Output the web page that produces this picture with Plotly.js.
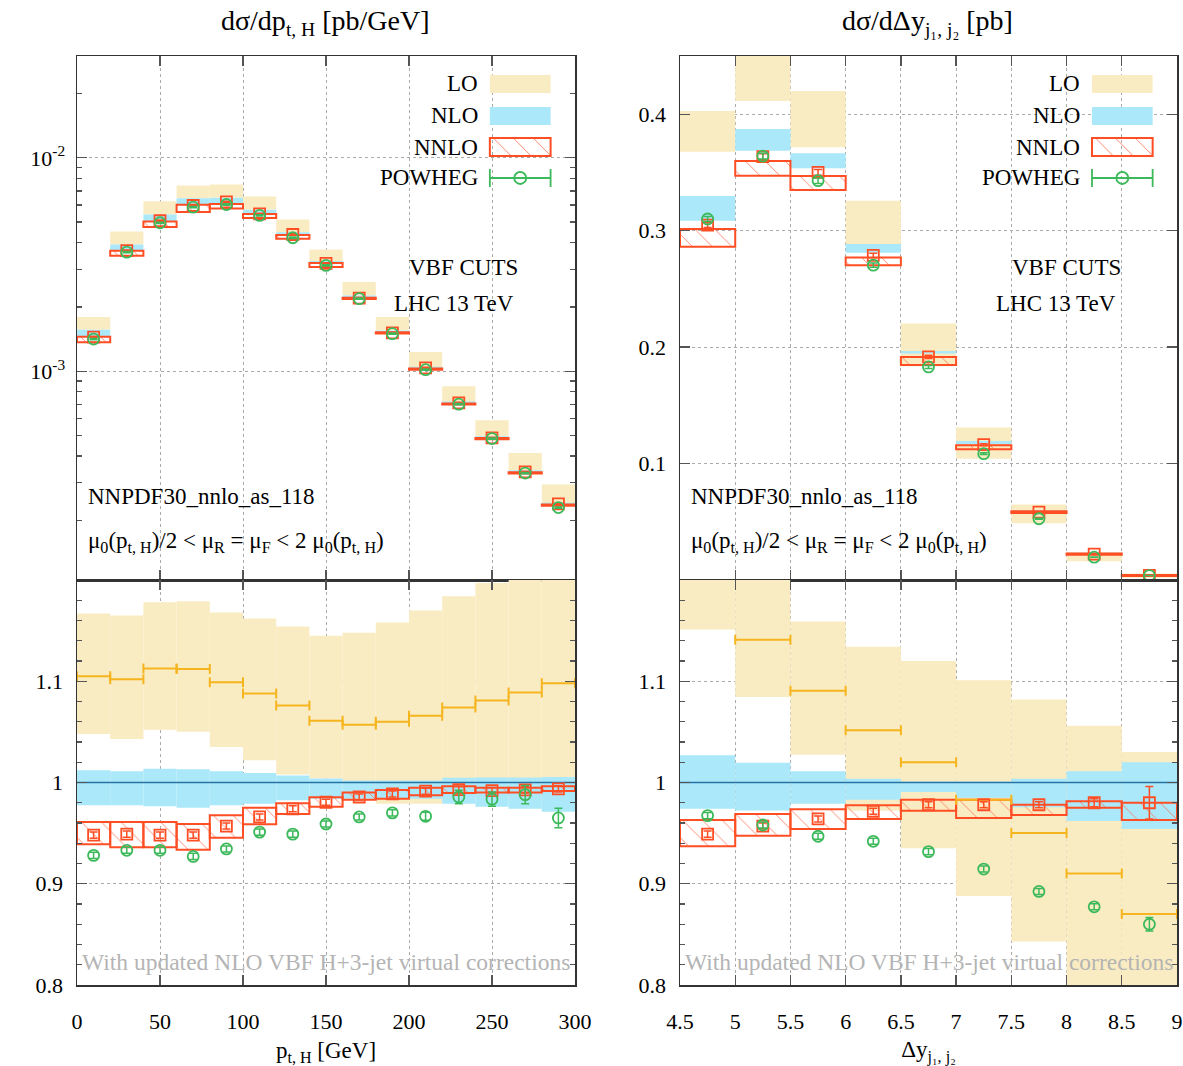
<!DOCTYPE html>
<html><head><meta charset="utf-8">
<script src="https://cdn.plot.ly/plotly-3.0.1.min.js"></script>
<style>body{margin:0;background:#fff}#chart{width:1183px;height:1066px}</style>
</head><body><div id="chart"></div>
<script>
// ---------- p_t,H distribution (left) ----------
const ptCenters = [10,30,50,70,90,110,130,150,170,190,210,230,250,270,290];
const ptEdges   = [0,20,40,60,80,100,120,140,160,180,200,220,240,260,280,300];
const ptLOlo   = [1.565e-3,3.926e-3,5.425e-3,6.47e-3,6.495e-3,5.71e-3,4.48e-3,3.28e-3,2.265e-3,1.553e-3,1.045e-3,7.165e-4,4.95e-4,3.43e-4,2.41e-4];
const ptLOhi   = [1.792e-3,4.516e-3,6.262e-3,7.42e-3,7.497e-3,6.59e-3,5.14e-3,3.72e-3,2.615e-3,1.792e-3,1.229e-3,8.49e-4,5.885e-4,4.133e-4,2.94e-4];
const ptNLOlo  = [1.46e-3,3.68e-3,5.047e-3,6.04e-3,6.09e-3,5.465e-3,4.36e-3,3.22e-3,2.21e-3,1.52e-3,1.03e-3,7.06e-4,4.86e-4,3.36e-4,2.37e-4];
const ptNLOhi  = [1.565e-3,3.926e-3,5.425e-3,6.47e-3,6.495e-3,5.71e-3,4.48e-3,3.28e-3,2.26e-3,1.55e-3,1.05e-3,7.2e-4,4.96e-4,3.43e-4,2.42e-4];
const ptNNLOlo = [1.365e-3,3.47e-3,4.74e-3,5.57e-3,5.78e-3,5.22e-3,4.18e-3,3.08e-3,2.18e-3,1.50e-3,1.015e-3,6.97e-4,4.8e-4,3.31e-4,2.34e-4];
const ptNNLOhi = [1.45e-3,3.67e-3,5.03e-3,6.02e-3,6.07e-3,5.45e-3,4.35e-3,3.21e-3,2.21e-3,1.52e-3,1.03e-3,7.06e-4,4.86e-4,3.36e-4,2.37e-4];
const ptNNLO   = [1.445e-3,3.67e-3,5.07e-3,5.977e-3,6.22e-3,5.465e-3,4.37e-3,3.2e-3,2.2e-3,1.51e-3,1.035e-3,7.1e-4,4.87e-4,3.37e-4,2.39e-4];
const ptPOW    = [1.414e-3,3.612e-3,4.96e-3,5.87e-3,6.04e-3,5.37e-3,4.22e-3,3.13e-3,2.186e-3,1.498e-3,1.016e-3,7.0e-4,4.83e-4,3.33e-4,2.294e-4];
// ratios to NLO
const ptRLOlo   = [1.048,1.043,1.052,1.050,1.035,1.022,1.008,1.004,0.995,0.979,0.979,0.985,0.985,0.985,0.985];
const ptRLOhi   = [1.167,1.165,1.178,1.179,1.168,1.162,1.154,1.145,1.148,1.158,1.170,1.184,1.197,1.215,1.225];
const ptRLO     = [1.105,1.102,1.1125,1.112,1.099,1.088,1.076,1.061,1.057,1.060,1.066,1.074,1.081,1.089,1.098];
const ptRNLOlo  = [0.9775,0.9775,0.9765,0.975,0.9775,0.979,0.9825,0.984,0.984,0.984,0.984,0.979,0.976,0.974,0.971];
const ptRNLOhi  = [1.012,1.011,1.0135,1.013,1.011,1.0095,1.007,1.004,1.002,1.002,1.002,1.0047,1.005,1.005,1.0055];
const ptRNLO    = [1,1,1,1,1,1,1,1,1,1,1,1,1,1,1,1];
const ptRNNLOlo = [0.939,0.936,0.936,0.9336,0.9455,0.9587,0.969,0.976,0.983,0.984,0.9874,0.9897,0.990,0.990,0.9917];
const ptRNNLOhi = [0.961,0.961,0.961,0.959,0.9676,0.975,0.9795,0.9855,0.990,0.9927,0.9947,0.9963,0.9947,0.9947,0.9963];
const ptRNNLO   = [0.948,0.949,0.948,0.948,0.957,0.966,0.974,0.9805,0.9857,0.9887,0.9914,0.993,0.992,0.9927,0.9937];
const ptRNNLOerr= [0.003,0.003,0.003,0.003,0.003,0.003,0.003,0.003,0.003,0.003,0.003,0.003,0.003,0.003,0.003];
const ptRPOW    = [0.928,0.933,0.933,0.927,0.9344,0.951,0.949,0.959,0.966,0.970,0.9666,0.9857,0.9835,0.988,0.965];
const ptRPOWerr = [0.003,0.003,0.003,0.003,0.003,0.003,0.003,0.003,0.003,0.003,0.004,0.0066,0.007,0.009,0.0096];

// ---------- Delta y_j1j2 distribution (right) ----------
const dyCenters = [4.75,5.25,5.75,6.25,6.75,7.25,7.75,8.25,8.75];
const dyEdges   = [4.5,5,5.5,6,6.5,7,7.5,8,8.5,9];
const dyLOlo   = [0.3678,0.4114,0.3716,0.2885,0.1836,0.1042,0.0488,0.0162,0.0020];
const dyLOhi   = [0.4028,0.47,0.420,0.3257,0.2203,0.1309,0.0649,0.0239,0.0055];
const dyNLOlo  = [0.3085,0.3687,0.3536,0.281,0.1945,0.1165,0.0588,0.0225,0.0041];
const dyNLOhi  = [0.3298,0.3874,0.3665,0.2885,0.1967,0.1193,0.0600,0.0233,0.0047];
const dyNNLOlo = [0.2862,0.3472,0.3349,0.2704,0.1847,0.1122,0.0575,0.0217,0.0035];
const dyNNLOhi = [0.3014,0.3598,0.347,0.277,0.1916,0.1157,0.0590,0.0228,0.0043];
const dyNNLO   = [0.3048,0.3635,0.350,0.2787,0.1916,0.1162,0.0583,0.0222,0.0040];
const dyPOW    = [0.310,0.3641,0.3429,0.2704,0.183,0.1085,0.0526,0.0196,0.0038];
const dyRLOlo   = [1.151,1.0845,1.0274,0.972,0.935,0.888,0.843,0.76,0.70];
const dyRLOhi   = [1.26,1.30,1.159,1.134,1.120,1.101,1.082,1.056,1.030];
const dyRLO     = [1.205,1.141,1.0907,1.0515,1.020,0.983,0.950,0.910,0.870];
const dyRNLOlo  = [0.974,0.9723,0.979,0.983,0.9907,0.985,0.9756,0.962,0.954];
const dyRNLOhi  = [1.027,1.0195,1.011,1.0037,1.001,1.001,1.0037,1.011,1.020];
const dyRNLO    = [1,1,1,1,1,1,1,1,1,1];
const dyRNNLOlo = [0.937,0.9475,0.954,0.964,0.972,0.965,0.968,0.975,0.963];
const dyRNNLOhi = [0.963,0.969,0.9737,0.9775,0.983,0.983,0.978,0.9815,0.980];
const dyRNNLO   = [0.949,0.957,0.964,0.9716,0.978,0.978,0.978,0.980,0.980];
const dyRNNLOerr= [0.003,0.003,0.003,0.003,0.003,0.003,0.003,0.004,0.016];
const dyRPOW    = [0.9673,0.958,0.9469,0.9419,0.9317,0.9145,0.8924,0.8772,0.860];
const dyRPOWerr = [0.003,0.003,0.003,0.003,0.003,0.003,0.003,0.003,0.0066];

// ---------- styles ----------
const SERIF = 'Liberation Serif, Times New Roman, serif';
const C_LO = 'rgb(250,236,194)', C_NLO = 'rgb(170,232,250)', C_NNLO = 'rgb(255,78,36)';
const C_HATCH = 'rgba(255,110,80,0.8)', C_POW = 'rgb(60,185,90)', C_LOC = 'rgb(246,181,30)', C_NLOC = 'rgb(40,115,165)';

const traces = [];
function band(x, lo, hi, w, xa, ya, color) {
  traces.push({type:'bar', x:x, base:lo, y:hi.map((h,i)=>h-lo[i]), width:w, xaxis:xa, yaxis:ya,
    marker:{color:color, line:{width:0}}, showlegend:false, hoverinfo:'skip'});
}
function hatch(x, lo, hi, w, xa, ya) {
  traces.push({type:'bar', x:x, base:lo, y:hi.map((h,i)=>h-lo[i]), width:w, xaxis:xa, yaxis:ya,
    marker:{color:'rgba(0,0,0,0)', line:{color:C_NNLO, width:2},
      pattern:{shape:'\\', fgcolor:C_HATCH, bgcolor:'rgba(0,0,0,0)', size:14, solidity:0.07}},
    showlegend:false, hoverinfo:'skip'});
}
function pts(x, y, xa, ya, sym, col, err) {
  const e = err ? {type:'data', array:err, visible:true, width:4, thickness:1.5, color:col}
                : {type:'percent', value:0.7, visible:true, width:4, thickness:1.5, color:col};
  traces.push({type:'scatter', mode:'markers', x:x, y:y, xaxis:xa, yaxis:ya,
    marker:{symbol:sym, size:11, color:col, line:{color:col, width:1.8}},
    error_y:e, showlegend:false, hoverinfo:'skip'});
}
function loLine(x, y, half, xa, ya) {
  traces.push({type:'scatter', mode:'markers', x:x, y:y, xaxis:xa, yaxis:ya,
    marker:{size:1, color:'rgba(0,0,0,0)'},
    error_x:{type:'constant', value:half, visible:true, width:5, thickness:2, color:C_LOC},
    showlegend:false, hoverinfo:'skip'});
}
function centralLine(edges, y, xa, ya) {
  traces.push({type:'scatter', mode:'lines', x:edges, y:y, xaxis:xa, yaxis:ya, line:{color:C_NLOC, width:1.5, shape:'hv'},
    showlegend:false, hoverinfo:'skip'});
}

// top-left
band(ptCenters, ptLOlo, ptLOhi, 20, 'x', 'y', C_LO);
band(ptCenters, ptNLOlo, ptNLOhi, 20, 'x', 'y', C_NLO);
hatch(ptCenters, ptNNLOlo, ptNNLOhi, 20, 'x', 'y');
pts(ptCenters, ptNNLO, 'x', 'y', 'square-open', C_NNLO);
pts(ptCenters, ptPOW, 'x', 'y', 'circle-open', C_POW);
// bottom-left
band(ptCenters, ptRLOlo, ptRLOhi, 20, 'x2', 'y2', C_LO);
band(ptCenters, ptRNLOlo, ptRNLOhi, 20, 'x2', 'y2', C_NLO);
centralLine(ptEdges, ptRNLO, 'x2', 'y2');
loLine(ptCenters, ptRLO, 10, 'x2', 'y2');
hatch(ptCenters, ptRNNLOlo, ptRNNLOhi, 20, 'x2', 'y2');
pts(ptCenters, ptRNNLO, 'x2', 'y2', 'square-open', C_NNLO, ptRNNLOerr);
pts(ptCenters, ptRPOW, 'x2', 'y2', 'circle-open', C_POW, ptRPOWerr);
// top-right
band(dyCenters, dyLOlo, dyLOhi, 0.5, 'x3', 'y3', C_LO);
band(dyCenters, dyNLOlo, dyNLOhi, 0.5, 'x3', 'y3', C_NLO);
hatch(dyCenters, dyNNLOlo, dyNNLOhi, 0.5, 'x3', 'y3');
pts(dyCenters, dyNNLO, 'x3', 'y3', 'square-open', C_NNLO);
pts(dyCenters, dyPOW, 'x3', 'y3', 'circle-open', C_POW);
// bottom-right
band(dyCenters, dyRLOlo, dyRLOhi, 0.5, 'x4', 'y4', C_LO);
band(dyCenters, dyRNLOlo, dyRNLOhi, 0.5, 'x4', 'y4', C_NLO);
centralLine(dyEdges, dyRNLO, 'x4', 'y4');
loLine(dyCenters, dyRLO, 0.25, 'x4', 'y4');
hatch(dyCenters, dyRNNLOlo, dyRNNLOhi, 0.5, 'x4', 'y4');
pts(dyCenters, dyRNNLO, 'x4', 'y4', 'square-open', C_NNLO, dyRNNLOerr);
pts(dyCenters, dyRPOW, 'x4', 'y4', 'circle-open', C_POW, dyRPOWerr);

// ---------- layout ----------
const W = 1183, H = 1066;
const XL = [77/W, 575/W], XR = [680/W, 1177/W];
const YT = [1-580/H, 1-56/H], YB = [1-985/H, 1-580/H];
const tickFont = {family:SERIF, size:22, color:'#000'};
function ax(extra) {
  return Object.assign({showline:true, mirror:'ticks', linecolor:'#333', linewidth:1.5,
    ticks:'inside', ticklen:10, tickwidth:1.3, tickcolor:'#555',
    showgrid:true, gridcolor:'#aaa', griddash:'dot', gridwidth:1, zeroline:false,
    tickfont:tickFont, fixedrange:true}, extra);
}
const logMinor = [2e-4,3e-4,4e-4,5e-4,6e-4,7e-4,8e-4,9e-4,2e-3,3e-3,4e-3,5e-3,6e-3,7e-3,8e-3,9e-3,2e-2,3e-2];

const layout = {
  width:W, height:H, margin:{l:0,r:0,t:0,b:0}, paper_bgcolor:'#fff', plot_bgcolor:'rgba(0,0,0,0)',
  barmode:'overlay', showlegend:false, font:{family:SERIF, color:'#000'},
  xaxis:  ax({domain:XL, anchor:'y',  range:[0,300], dtick:50, showticklabels:false}),
  yaxis:  ax({domain:YT, anchor:'x',  type:'log', range:[Math.log10(1.05e-4), Math.log10(3e-2)],
              tickvals:[1e-3,1e-2], ticktext:['10<sup>-3</sup>','10<sup>-2</sup>'], ticklabelstandoff:6,
              minor:{tickmode:'array', tickvals:logMinor, ticks:'inside', ticklen:5, tickcolor:'#555', showgrid:false}}),
  xaxis2: ax({domain:XL, anchor:'y2', range:[0,300], dtick:50, ticklabelstandoff:16,
              title:{text:'p<sub>t, H</sub> [GeV]', font:{family:SERIF, size:23, color:'#000'}, standoff:14}}),
  yaxis2: ax({domain:YB, anchor:'x2', range:[0.8,1.2], tickvals:[0.8,0.9,1,1.1], ticktext:['0.8','0.9','1','1.1'], ticklabelstandoff:8,
              minor:{dtick:0.02, ticks:'inside', ticklen:5, tickcolor:'#555', showgrid:false}}),
  xaxis3: ax({domain:XR, anchor:'y3', range:[4.5,9], dtick:0.5, showticklabels:false}),
  yaxis3: ax({domain:YT, anchor:'x3', range:[0,0.45], tickvals:[0.1,0.2,0.3,0.4], ticktext:['0.1','0.2','0.3','0.4'], ticklabelstandoff:8}),
  xaxis4: ax({domain:XR, anchor:'y4', range:[4.5,9], dtick:0.5, ticklabelstandoff:16,
              title:{text:'Δy<sub>j₁, j₂</sub>', font:{family:SERIF, size:23, color:'#000'}, standoff:14}}),
  yaxis4: ax({domain:YB, anchor:'x4', range:[0.8,1.2], tickvals:[0.8,0.9,1,1.1], ticktext:['0.8','0.9','1','1.1'], ticklabelstandoff:8,
              minor:{dtick:0.02, ticks:'inside', ticklen:5, tickcolor:'#555', showgrid:false}}),
  annotations:[], shapes:[]
};

const txt = (s, size, color) => ({family:SERIF, size:size, color:color||'#000'});
// titles
layout.annotations.push({xref:'paper', yref:'paper', x:325/W, y:1-22/H, text:'dσ/dp<sub>t, H</sub> [pb/GeV]', showarrow:false, font:txt('',28), xanchor:'center', yanchor:'middle'});
layout.annotations.push({xref:'paper', yref:'paper', x:927/W, y:1-22/H, text:'dσ/dΔy<sub>j₁, j₂</sub> [pb]', showarrow:false, font:txt('',28), xanchor:'center', yanchor:'middle'});

const mu = 'μ<sub>0</sub>(p<sub>t, H</sub>)/2 &lt; μ<sub>R</sub> = μ<sub>F</sub> &lt; 2 μ<sub>0</sub>(p<sub>t, H</sub>)';
const legY = [0.9466, 0.8855, 0.8263, 0.7672], legNames = ['LO','NLO','NNLO','POWHEG'];
[['x','y','x2','y2'],['x3','y3','x4','y4']].forEach(([xt,yt,xb,yb]) => {
  const xr = xt+' domain', yr = yt+' domain', xbr = xb+' domain', ybr = yb+' domain';
  legNames.forEach((n,i)=>layout.annotations.push({xref:xr, yref:yr, x:0.809, y:legY[i], text:n, showarrow:false, xanchor:'right', yanchor:'middle', font:txt('',23)}));
  layout.annotations.push({xref:xr, yref:yr, x:0.777, y:0.597, text:'VBF CUTS', showarrow:false, xanchor:'center', yanchor:'middle', font:txt('',23)});
  layout.annotations.push({xref:xr, yref:yr, x:0.757, y:0.5286, text:'LHC 13 TeV', showarrow:false, xanchor:'center', yanchor:'middle', font:txt('',23)});
  layout.annotations.push({xref:xr, yref:yr, x:0.018, y:0.1584, text:'NNPDF30_nnlo_as_118', showarrow:false, xanchor:'left', yanchor:'middle', font:txt('',23)});
  layout.annotations.push({xref:xr, yref:yr, x:0.018, y:0.0725, text:mu, showarrow:false, xanchor:'left', yanchor:'middle', font:txt('',23)});
  layout.annotations.push({xref:xbr, yref:ybr, x:0.5, y:0.057, text:'With updated NLO VBF H+3-jet virtual corrections', showarrow:false, xanchor:'center', yanchor:'middle', font:txt('',23.5,'#b4b4b4')});
  // legend swatches
  const x0 = 0.829, x1 = 0.951, hh = 0.0172;
  layout.shapes.push({type:'rect', xref:xr, yref:yr, x0:x0, x1:x1, y0:legY[0]-hh, y1:legY[0]+hh, fillcolor:C_LO, line:{width:0}});
  layout.shapes.push({type:'rect', xref:xr, yref:yr, x0:x0, x1:x1, y0:legY[1]-hh, y1:legY[1]+hh, fillcolor:C_NLO, line:{width:0}});
  [0.836, 0.876, 0.916].forEach(s => layout.shapes.push({type:'line', xref:xr, yref:yr, x0:s, x1:Math.min(s+0.036, x1), y0:legY[2]+hh, y1:legY[2]+hh-(Math.min(s+0.036,x1)-s)/0.036*2*hh, line:{color:C_HATCH, width:1}}));
  layout.shapes.push({type:'rect', xref:xr, yref:yr, x0:x0, x1:x1, y0:legY[2]-hh, y1:legY[2]+hh, line:{color:C_NNLO, width:2}});
  layout.shapes.push({type:'line', xref:xr, yref:yr, x0:x0, x1:x1, y0:legY[3], y1:legY[3], line:{color:C_POW, width:1.8}});
  [x0, x1].forEach(xx => layout.shapes.push({type:'line', xref:xr, yref:yr, x0:xx, x1:xx, y0:legY[3]-hh, y1:legY[3]+hh, line:{color:C_POW, width:1.8}}));
  layout.shapes.push({type:'circle', xref:xr, yref:yr, xsizemode:'pixel', ysizemode:'pixel', xanchor:(x0+x1)/2, yanchor:legY[3], x0:-6, x1:6, y0:-6, y1:6, line:{color:C_POW, width:1.8}});
});

Plotly.newPlot('chart', traces, layout, {staticPlot:true});
</script></body></html>
